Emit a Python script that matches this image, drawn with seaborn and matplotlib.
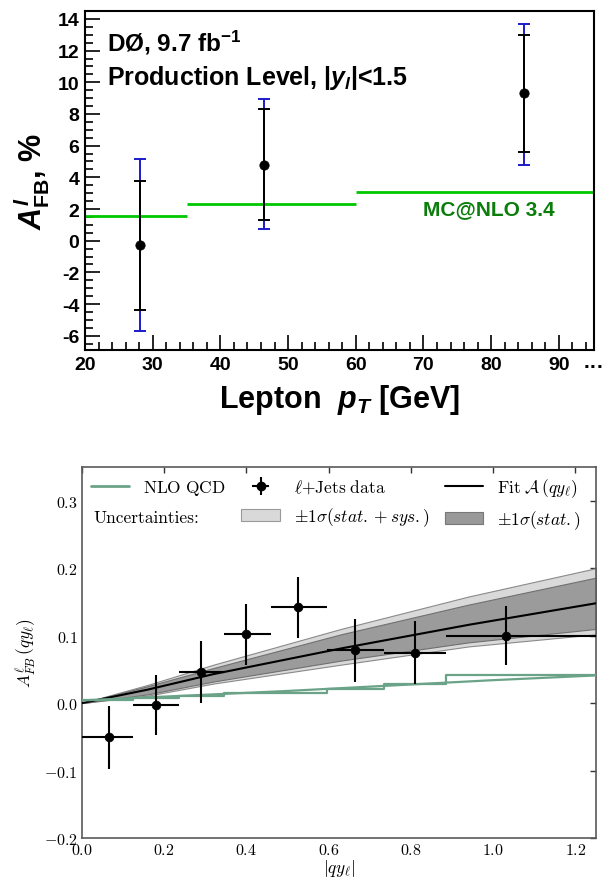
import numpy as np
import pandas as pd
import matplotlib
matplotlib.use("Agg")
import matplotlib.pyplot as plt
import seaborn as sns
from matplotlib.lines import Line2D
from matplotlib.patches import Patch
from matplotlib.ticker import MultipleLocator, FuncFormatter

# ---------------- top panel data (D0) ----------------
pt_centers = [28.1, 46.5, 84.9]
afb_pt = [-0.30, 4.81, 9.31]
stat_lo = [4.10, 3.49, 3.71]
stat_hi = [4.10, 3.51, 3.69]
tot_lo = [5.43, 4.06, 4.56]
tot_hi = [5.47, 4.14, 4.37]
mc_edges = [20, 35, 60, 95]
mc_vals = [1.57, 2.29, 3.10]
top_xticks = [20, 30, 40, 50, 60, 70, 80, 90]
top_yticks = [-6, -4, -2, 0, 2, 4, 6, 8, 10, 12, 14]

# ---------------- bottom panel data ----------------
qy_centers = [0.065, 0.18, 0.29, 0.40, 0.525, 0.665, 0.81, 1.03]
qy_edges = [0.0, 0.125, 0.235, 0.345, 0.46, 0.595, 0.735, 0.885, 1.25]
afb_qy = [-0.051, -0.003, 0.046, 0.102, 0.142, 0.078, 0.075, 0.100]
afb_qy_err = [0.047, 0.045, 0.046, 0.045, 0.045, 0.046, 0.046, 0.044]
nlo_step = [0.004, 0.007, 0.011, 0.0145, 0.0145, 0.021, 0.028, 0.041]
nlo_x = [0.0, 0.25, 0.5, 0.75, 1.0, 1.25]
nlo_y = [0.004, 0.011, 0.018, 0.026, 0.034, 0.041]
fit_x = [0.0, 0.16, 0.32, 0.63, 0.94, 1.25]
fit_y = [0.0, 0.020, 0.043, 0.081, 0.116, 0.148]
stat_band_lo = [0.0, 0.013, 0.032, 0.063, 0.090, 0.110]
stat_band_hi = [0.0, 0.025, 0.052, 0.102, 0.146, 0.186]
tot_band_lo = [0.0, 0.011, 0.029, 0.057, 0.084, 0.102]
tot_band_hi = [0.0, 0.027, 0.057, 0.110, 0.158, 0.200]
bot_xticks = [0.0, 0.2, 0.4, 0.6, 0.8, 1.0, 1.2]
bot_yticks = [-0.2, -0.1, 0.0, 0.1, 0.2, 0.3]

sns.set_theme(style="white")
plt.rcParams.update({
    "font.family": ["Liberation Sans", "DejaVu Sans"],
    "text.color": "black",
    "axes.labelcolor": "black",
    "xtick.color": "black",
    "ytick.color": "black",
    "mathtext.fontset": "cm",
    "mathtext.rm": "Liberation Sans:bold",
    "mathtext.it": "Liberation Sans:italic:bold",
    "mathtext.bf": "Liberation Sans:bold",
    "mathtext.sf": "Liberation Sans:bold",
    "axes.unicode_minus": False,
})

fig = plt.figure(figsize=(6.05, 8.78), dpi=100)

# ================= TOP PANEL =================
ax1 = fig.add_axes([85/605, 1-351/878, (594-85)/605, (351-12)/878])
ax1.set_xlim(20, 95.2)
ax1.set_ylim(-6.9, 14.5)

ax1.hlines(mc_vals, mc_edges[:-1], mc_edges[1:], colors="#00c800", lw=2.0, zorder=2)

pt = np.array(pt_centers)
ya = np.array(afb_pt)
ax1.errorbar(pt, ya, yerr=[tot_lo, tot_hi], fmt="none", ecolor="#1a1acc",
             elinewidth=1.4, capsize=4.5, capthick=1.4, zorder=3)
ax1.errorbar(pt, ya, yerr=[stat_lo, stat_hi], fmt="none", ecolor="black",
             elinewidth=1.4, capsize=4.0, capthick=1.4, zorder=4)
sns.scatterplot(x=pt_centers, y=afb_pt, ax=ax1, color="black", s=45,
                edgecolor="black", zorder=5, legend=False)

for s in ax1.spines.values():
    s.set_linewidth(1.5)
    s.set_color("black")
ax1.set_xticks(top_xticks)
ax1.set_yticks(top_yticks)
ax1.xaxis.set_minor_locator(MultipleLocator(2))
ax1.yaxis.set_minor_locator(MultipleLocator(0.5))
ax1.tick_params(which="both", direction="in", top=False, right=False,
                bottom=True, left=True, width=1.2, color="black")
ax1.tick_params(which="major", length=11, labelsize=14, pad=4)
ax1.tick_params(which="minor", length=5.5)
ax1.xaxis.set_major_formatter(FuncFormatter(lambda v, p: "%d" % v))
ax1.yaxis.set_major_formatter(FuncFormatter(lambda v, p: "%d" % v))
for lab in ax1.get_xticklabels() + ax1.get_yticklabels():
    lab.set_fontweight("bold")

ax1.text(0.044, 0.883, r"DØ, 9.7 fb$^{-1}$", transform=ax1.transAxes,
         fontsize=17.5, fontweight="bold", math_fontfamily="custom")
ax1.text(0.044, 0.785, r"Production Level, $|y_{l}|$<1.5", transform=ax1.transAxes,
         fontsize=18, fontweight="bold", math_fontfamily="custom")
ax1.text(0.664, 0.401, "MC@NLO 3.4", transform=ax1.transAxes,
         fontsize=15, fontweight="bold", color="#0a7d0a")
ax1.set_xlabel(r"Lepton  $p_{T}$ [GeV]", fontsize=22, fontweight="bold",
               math_fontfamily="custom", labelpad=7)
ax1.set_ylabel(r"$A^{l}_{\mathrm{FB}}$, %", fontsize=22, fontweight="bold",
               math_fontfamily="custom", labelpad=4)
fig.text(594/605, 1-367/878, "···", ha="center", va="center",
         fontsize=15, fontweight="bold")

# ================= BOTTOM PANEL =================
ax2 = fig.add_axes([82/605, 1-839/878, (596-82)/605, (839-468)/878])
ax2.set_xlim(0, 1.25)
ax2.set_ylim(-0.2, 0.35)

ax2.fill_between(fit_x, tot_band_lo, tot_band_hi, facecolor="#d9d9d9",
                 edgecolor="#8a8a8a", lw=0.8, zorder=1)
ax2.fill_between(fit_x, stat_band_lo, stat_band_hi, facecolor="#9b9b9b",
                 edgecolor="#707070", lw=0.8, zorder=2)
sns.lineplot(x=fit_x, y=fit_y, ax=ax2, color="black", lw=1.5, zorder=3)

green = "#6aa388"
step_y = list(nlo_step) + [nlo_step[-1]]
sns.lineplot(x=qy_edges, y=step_y, ax=ax2, color=green, lw=1.6,
             drawstyle="steps-post", zorder=3)
sns.lineplot(x=nlo_x, y=nlo_y, ax=ax2, color=green, lw=1.6, zorder=3)

qc = np.array(qy_centers)
xe = np.array(qy_edges)
xerr = [qc - xe[:-1], xe[1:] - qc]
ax2.errorbar(qy_centers, afb_qy, xerr=xerr, yerr=afb_qy_err, fmt="none",
             ecolor="black", elinewidth=1.5, capsize=0, zorder=4)
sns.scatterplot(x=qy_centers, y=afb_qy, ax=ax2, color="black", s=40,
                edgecolor="black", zorder=5, legend=False)

spine_c = "#5a5a5a"
for s in ax2.spines.values():
    s.set_linewidth(1.2)
    s.set_color(spine_c)
ax2.set_xticks(bot_xticks, [r"$%.1f$" % v for v in bot_xticks])
ax2.set_yticks(bot_yticks, [r"$%.1f$" % v for v in bot_yticks])
ax2.tick_params(which="major", direction="in", top=True, right=True,
                length=4, width=1.0, color="#333333", labelsize=11.5, pad=3)
ax2.set_xlabel(r"$|qy_{\ell}|$", fontsize=12.5, labelpad=0)
ax2.set_ylabel(r"$A^{\ell}_{FB}\,(qy_{\ell})$", fontsize=12.5, labelpad=4)

fs_leg = 12.5
h_nlo = Line2D([], [], color=green, lw=2)
h_blank = Line2D([], [], color="none", lw=0)
h_data = ax2.errorbar([], [], xerr=[], yerr=[], fmt="o", color="black",
                      ms=6, elinewidth=1.5, capsize=0)
h_fit = Line2D([], [], color="black", lw=1.5)
h_tot = Patch(facecolor="#d9d9d9", edgecolor="#9a9a9a", lw=0.8)
h_stat = Patch(facecolor="#999999", edgecolor="#777777", lw=0.8)
handles = [h_nlo, h_blank, h_data, h_tot, h_fit, h_stat]
labels = [r"$\mathrm{NLO\ QCD}$", " ",
          r"$\ell\mathrm{+Jets\ data}$", r"$\pm1\sigma(stat.+sys.)$",
          r"$\mathrm{Fit}\ \mathcal{A}\,(qy_{\ell})$", r"$\pm1\sigma(stat.)$"]
leg = ax2.legend(handles, labels, ncol=3, loc="upper left",
                 bbox_to_anchor=(0.0175, 0.975), frameon=False,
                 fontsize=fs_leg, handlelength=2.2, handletextpad=0.8,
                 columnspacing=0.9, labelspacing=0.55, borderpad=0,
                 borderaxespad=0)
ax2.text(93/605, 1-518/878, "Uncertainties:", transform=fig.transFigure,
         fontsize=fs_leg, va="center", ha="left", family=["cmr10", "DejaVu Serif"])

fig.savefig("out.png", dpi=100)
